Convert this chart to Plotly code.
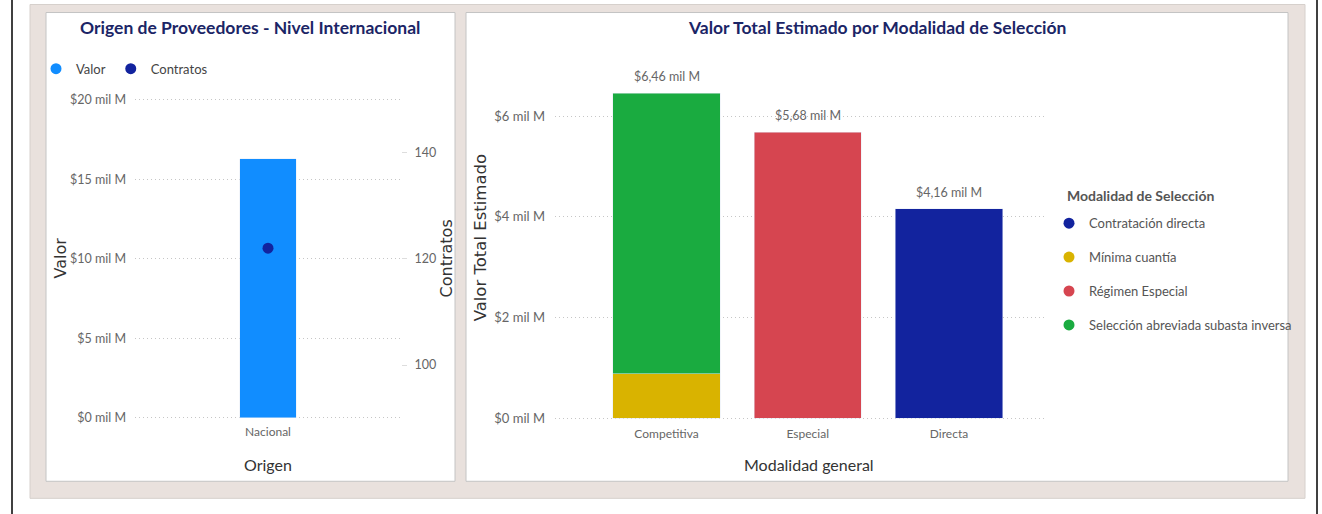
import plotly.graph_objects as go

W, H = 1322, 514
# the captured page maps figure y to picture y as: y_pic = 6.5 + 0.973 * y_fig
Y0, YS = 6.5, 0.973

def px(x):
    return x / W

def py(y):
    return 1 - ((y - Y0) / YS) / H

def ppu(v):
    # picture pixels -> figure pixels (vertical)
    return v / YS

# ---------------- data ----------------
origen = ["Nacional"]
valor_origen = [16.3]          # mil M
contratos_origen = [122]
valor_ticks = [0, 5, 10, 15, 20]
valor_ticklabels = ["$0 mil M", "$5 mil M", "$10 mil M", "$15 mil M", "$20 mil M"]
contratos_ticks = [100, 120, 140]

modalidad_general = ["Competitiva", "Especial", "Directa"]
modalidades = ["Contratación directa", "Mínima cuantía", "Régimen Especial",
               "Selección abreviada subasta inversa"]
modalidad_cat = ["Directa", "Competitiva", "Especial", "Competitiva"]
modalidad_valor = [4.16, 0.88, 5.68, 5.58]   # mil M
modalidad_colores = ["#12239E", "#D9B300", "#D64550", "#1AAB40"]
total_ticks = [0, 2, 4, 6]
total_ticklabels = ["$0 mil M", "$2 mil M", "$4 mil M", "$6 mil M"]

# ---------------- style ----------------
FONT = "Lato, Roboto, Liberation Sans, sans-serif"
TITLE_COLOR = "#1B2566"
TICK_COLOR = "#666666"
GRID = "#c6c6c6"
GRIDDASH = "1px,3px"

fig = go.Figure()

# left chart
fig.add_trace(go.Bar(x=origen, y=valor_origen, marker_color="#118DFF", width=0.212,
                     xaxis="x", yaxis="y", showlegend=False))
fig.add_trace(go.Scatter(x=origen, y=contratos_origen, mode="markers",
                         marker=dict(color="#12239E", size=11),
                         xaxis="x", yaxis="y2", showlegend=False))
# left legend entries
fig.add_trace(go.Scatter(x=[None], y=[None], mode="markers", name="Valor",
                         marker=dict(color="#118DFF", size=11, symbol="circle"),
                         xaxis="x", yaxis="y", legend="legend"))
fig.add_trace(go.Scatter(x=[None], y=[None], mode="markers", name="Contratos",
                         marker=dict(color="#12239E", size=11, symbol="circle"),
                         xaxis="x", yaxis="y", legend="legend"))

# right chart (stacked)
for name, cat, val, col in zip(modalidades, modalidad_cat, modalidad_valor, modalidad_colores):
    fig.add_trace(go.Bar(x=[cat], y=[val], name=name, marker_color=col, width=0.76,
                         xaxis="x2", yaxis="y3", showlegend=False))
for name, col in zip(modalidades, modalidad_colores):
    fig.add_trace(go.Scatter(x=[None], y=[None], mode="markers", name=name,
                             marker=dict(color=col, size=11, symbol="circle"),
                             xaxis="x2", yaxis="y3", legend="legend2", legendgroup=name))

totals = []
for c in modalidad_general:
    totals.append(round(sum(v for k, v in zip(modalidad_cat, modalidad_valor) if k == c), 2))
labels = [("$%.2f mil M" % t).replace(".", ",") for t in totals]

# ---------------- background shapes ----------------
shapes = [
    dict(type="rect", xref="paper", yref="paper", x0=px(30), x1=px(1305), y0=py(497), y1=py(5),
         fillcolor="#E9E1DD", line=dict(color="#d6d0cc", width=1), layer="below"),
    dict(type="rect", xref="paper", yref="paper", x0=px(46), x1=px(455), y0=py(480), y1=py(13),
         fillcolor="white", line=dict(color="#c4c4c4", width=1), layer="below"),
    dict(type="rect", xref="paper", yref="paper", x0=px(466), x1=px(1288), y0=py(480), y1=py(13),
         fillcolor="white", line=dict(color="#c4c4c4", width=1), layer="below"),
    dict(type="line", xref="paper", yref="paper", x0=px(12), x1=px(12), y0=-0.05, y1=1.05,
         line=dict(color="black", width=1.5), layer="below"),
    dict(type="line", xref="paper", yref="paper", x0=px(1317), x1=px(1317), y0=-0.05, y1=1.05,
         line=dict(color="black", width=1.5), layer="below"),
]

def ann(text, x, y, size, family=FONT, color="#333333", angle=0, xanchor="center"):
    return dict(text=text, x=px(x), y=py(y), xref="paper", yref="paper", showarrow=False,
                xanchor=xanchor, yanchor="middle", textangle=angle,
                font=dict(family=family, size=size, color=color))

annotations = [
    ann("<b>Origen de Proveedores - Nivel Internacional</b>", 250, 28, 17.5, color=TITLE_COLOR),
    ann("<b>Valor Total Estimado por Modalidad de Selección</b>", 877, 28, 17.5, color=TITLE_COLOR),
    ann("Valor", 60, 258, 16, family="DejaVu Sans", angle=-90),
    ann("Contratos", 446, 258, 16, family="DejaVu Sans", angle=-90),
    ann("Origen", 268, 463, 16),
    ann("Valor Total Estimado", 480, 238, 16.5, family="DejaVu Sans", angle=-90),
    ann("Modalidad general", 809, 463, 16),
    ann("<b>Modalidad de Selección</b>", 1065, 195, 14, color="#555555", xanchor="left"),
]
for c, t, lab in zip(modalidad_general, totals, labels):
    annotations.append(dict(text=lab, x=c, y=t, xref="x2", yref="y3", showarrow=False,
                            xanchor="center", yanchor="bottom", yshift=ppu(7),
                            font=dict(family=FONT, size=12.5, color=TICK_COLOR)))

# small pad so the edge gridlines are drawn
lpad = 0.1
rpad = 0.05

fig.update_layout(
    width=W, height=H,
    margin=dict(l=0, r=0, t=0, b=0),
    paper_bgcolor="white", plot_bgcolor="rgba(0,0,0,0)",
    barmode="stack",
    shapes=shapes, annotations=annotations,
    xaxis=dict(domain=[px(135), px(401)], range=[-0.5, 0.5], type="category",
               showgrid=False, zeroline=False, showline=False, ticks="",
               tickfont=dict(family=FONT, size=12, color=TICK_COLOR),
               ticklabelstandoff=4),
    yaxis=dict(domain=[py(416.7 + lpad * 15.84), py(100 - lpad * 15.84)],
               range=[-lpad, 20 + lpad], tickvals=valor_ticks,
               ticktext=valor_ticklabels, showgrid=True, gridcolor=GRID, griddash=GRIDDASH,
               zeroline=False, showline=False, ticks="",
               tickfont=dict(family=FONT, size=12.5, color=TICK_COLOR),
               ticklabelstandoff=8, anchor="x"),
    yaxis2=dict(overlaying="y", side="right",
                range=[90.1 - lpad * 15.84 / 5.3, 149.9 + lpad * 15.84 / 5.3],
                tickvals=contratos_ticks,
                showgrid=False, zeroline=False, showline=False,
                ticks="outside", ticklen=5, tickcolor="#dddddd",
                tickfont=dict(family=FONT, size=12.5, color=TICK_COLOR),
                ticklabelstandoff=5, anchor="x"),
    xaxis2=dict(domain=[px(555), px(1045)], range=[-0.79, 2.68], type="category",
                categoryorder="array", categoryarray=modalidad_general,
                showgrid=False, zeroline=False, showline=False, ticks="",
                tickfont=dict(family=FONT, size=12, color=TICK_COLOR),
                ticklabelstandoff=4, anchor="y3"),
    yaxis3=dict(domain=[py(417 + rpad * 50.1), py(60)], range=[-rpad, 357 / 50.1],
                tickvals=total_ticks, ticktext=total_ticklabels, showgrid=True,
                gridcolor=GRID, griddash=GRIDDASH, zeroline=False, showline=False, ticks="",
                tickfont=dict(family=FONT, size=13, color=TICK_COLOR),
                ticklabelstandoff=9, anchor="x2"),
    legend=dict(orientation="h", x=px(36), y=py(54), xanchor="left", yanchor="top",
                bgcolor="rgba(0,0,0,0)", itemwidth=30, traceorder="normal",
                font=dict(family=FONT, size=13, color="#444444")),
    legend2=dict(orientation="v", x=px(1049), y=py(208), xanchor="left", yanchor="top",
                 bgcolor="rgba(0,0,0,0)", tracegroupgap=14, itemwidth=30,
                 traceorder="grouped",
                 font=dict(family=FONT, size=13, color="#555555")),
)

post = (
    "document.documentElement.style.margin='0';"
    "document.documentElement.style.padding='0';"
    "document.documentElement.style.overflow='hidden';"
    "document.body.style.margin='0';"
    "document.body.style.padding='0';"
    "document.body.style.overflow='hidden';"
)
fig.write_html("out.html", post_script=post, config={"displayModeBar": False})
